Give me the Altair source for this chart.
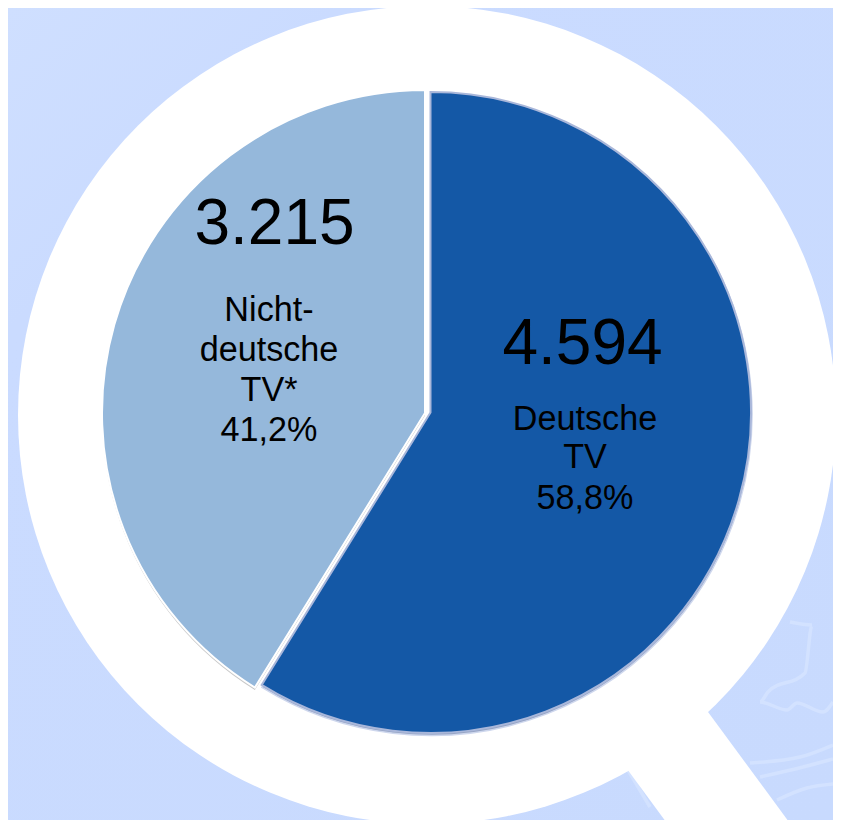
import math
import altair as alt
import pandas as pd

# Pie values
categories = ["Deutsche TV", "Nicht-deutsche TV*"]
values = [4594, 3215]
slice_colors = ["#1458A6", "#95B8DB"]

# Text
big_labels = ["4.594", "3.215"]
big_x = [582.5, 274.5]
big_y = [345, 224.5]
small_labels = ["Nicht-", "deutsche", "TV*", "41,2%", "Deutsche", "TV", "58,8%"]
small_x = [269, 269, 269, 269, 585, 585, 585]
small_y = [310.5, 350.5, 390.5, 430.5, 419.5, 458, 498.5]

# Layout anchors in reference pixels
W, H = 833, 820
ring_cx, ring_cy = 427, 415
handle_x = [640, 790]
handle_y = [703, 907]

# Faint background drawing
deco_paths = {
    "a": ([790, 812, 805, 768, 760, 787, 797, 823, 833], [622, 625, 673, 692, 702, 710, 703, 712, 702]),
    "b": ([750, 800, 833], [763, 757, 745]),
    "c": ([760, 803, 833], [777, 767, 759]),
    "d": ([777, 807, 833], [800, 788, 784]),
    "e": ([628, 650], [770, 807]),
}

x_scale = alt.Scale(domain=[8, W], range=[0, W - 8], nice=False, zero=False)
y_scale = alt.Scale(domain=[8, H], range=[0, H - 8], nice=False, zero=False)
X = lambda f: alt.X(f, type="quantitative", scale=x_scale, axis=None)
Y = lambda f: alt.Y(f, type="quantitative", scale=y_scale, axis=None)

bg_df = pd.DataFrame({"x": [8], "x2": [W], "y": [8], "y2": [H]})
bg = (
    alt.Chart(bg_df)
    .mark_rect(
        fill=alt.LinearGradient(
            gradient="linear",
            x1=0, y1=0, x2=1, y2=1,
            stops=[
                alt.GradientStop(offset=0, color="#CFDFFF"),
                alt.GradientStop(offset=0.2, color="#CADBFF"),
                alt.GradientStop(offset=1, color="#C8DAFE"),
            ],
        )
    )
    .encode(x=X("x"), x2="x2:Q", y=Y("y"), y2="y2:Q")
)

deco_df = pd.DataFrame(
    [
        {"k": k, "i": i, "x": x, "y": y}
        for k, (xs, ys) in deco_paths.items()
        for i, (x, y) in enumerate(zip(xs, ys))
    ]
)
deco = (
    alt.Chart(deco_df)
    .mark_line(stroke="#D3E2FF", strokeWidth=3.5, interpolate="monotone")
    .encode(x=X("x"), y=Y("y"), detail="k:N", order="i:Q")
)

handle_df = pd.DataFrame({"x": [handle_x[0]], "y": [handle_y[0]], "x2": [handle_x[1]], "y2": [handle_y[1]]})
handle = (
    alt.Chart(handle_df)
    .mark_rule(stroke="white", strokeWidth=99, strokeCap="butt")
    .encode(x=X("x"), y=Y("y"), x2="x2:Q", y2="y2:Q")
)

ring_df = pd.DataFrame({"x": [ring_cx], "y": [ring_cy]})
ring = (
    alt.Chart(ring_df)
    .mark_arc(radius=409, theta=0, theta2=6.28319, fill="white")
    .encode(x=X("x"), y=Y("y"))
)

# Slice angles come from the values
total = sum(values)
split = 2 * math.pi * values[0] / total
blue_df = pd.DataFrame({"cat": [categories[0]], "a0": [0.0], "a1": [split], "x": [430.5], "y": [412.5]})
light_df = pd.DataFrame({"cat": [categories[1]], "a0": [split], "a1": [2 * math.pi], "x": [425.0], "y": [413.0]})


def slice_layer(df, dx=0.0, dy=0.0, **mark):
    d = df.assign(x=df.x + dx, y=df.y + dy)
    return (
        alt.Chart(d)
        .mark_arc(**mark)
        .encode(
            x=X("x"),
            y=Y("y"),
            theta=alt.Theta("a0:Q", scale=None),
            theta2="a1:Q",
        )
    )


layers = [
    bg,
    deco,
    handle,
    ring,
    slice_layer(light_df, dx=0, dy=2.5, radius=323, fill="#9A9A9A", opacity=0.55),
    slice_layer(blue_df, dx=0.5, dy=2, radius=321, fill="#8C9CBF", stroke="#C9D3EC", strokeWidth=1.5, opacity=0.9),
    slice_layer(blue_df, radius=320.5, fill=slice_colors[0], stroke="#A9B7DA", strokeWidth=2),
    slice_layer(light_df, radius=323, fill=slice_colors[1], stroke="white", strokeWidth=2),
]

big_df = pd.DataFrame({"t": big_labels, "x": big_x, "y": big_y})
big = (
    alt.Chart(big_df)
    .mark_text(fontSize=64, font="Liberation Sans", color="black", align="center", baseline="middle")
    .encode(x=X("x"), y=Y("y"), text="t:N")
)
small_df = pd.DataFrame({"t": small_labels, "x": small_x, "y": small_y})
small = (
    alt.Chart(small_df)
    .mark_text(fontSize=34.2, font="Liberation Sans", color="black", align="center", baseline="middle")
    .encode(x=X("x"), y=Y("y"), text="t:N")
)

chart = (
    alt.layer(*layers, big, small)
    .properties(
        width=W - 8,
        height=H - 8,
        background="#C9DBFE",
        padding=0,
        autosize=alt.AutoSizeParams(type="none"),
    )
    .configure_view(stroke=None)
)
chart.save("out.html", embed_options={"renderer": "svg", "actions": False})
